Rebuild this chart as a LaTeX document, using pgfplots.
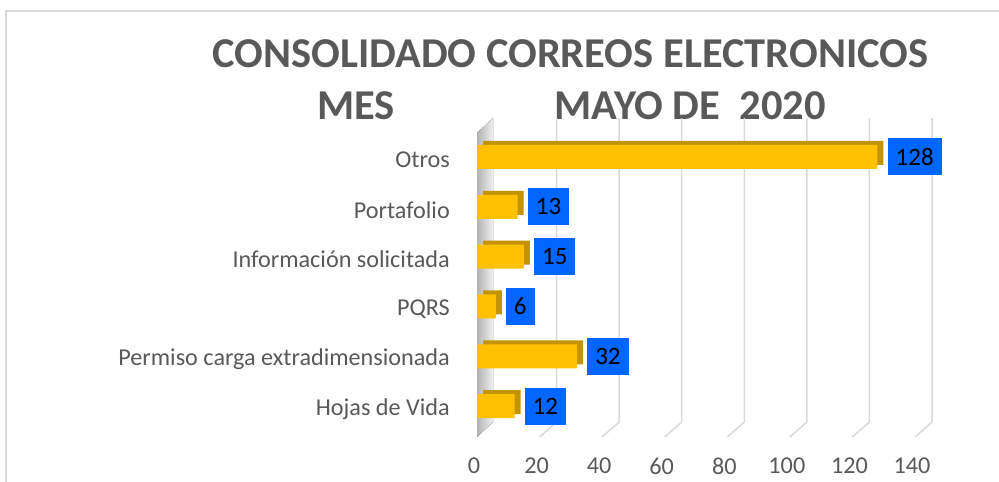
\documentclass[border=0pt]{standalone}
\usepackage{pgfplots}
\pgfplotsset{compat=1.18}
\usepackage{fontspec}
\setmainfont{Carlito}
\definecolor{txt}{HTML}{595959}
\definecolor{gold}{HTML}{FFC000}
\definecolor{golddark}{HTML}{C49400}
\definecolor{lblblue}{HTML}{0066FF}
\definecolor{gridc}{HTML}{D9D9D9}
\begin{document}
\begin{tikzpicture}[x=1pt,y=1pt]
\useasboundingbox (0,0) rectangle (999,-482);
\draw[gridc, line width=1.5pt] (6,-11) rectangle (1010,-495);
\node[anchor=base, inner sep=0pt, text=txt, font=\fontsize{42.5}{50}\selectfont\bfseries] at (570.5,-67) {CONSOLIDADO CORREOS ELECTRONICOS};
\node[anchor=base west, inner sep=0pt, text=txt, font=\fontsize{42.5}{50}\selectfont\bfseries] at (317,-119) {MES};
\node[anchor=base east, inner sep=0pt, text=txt, font=\fontsize{42.5}{50}\selectfont\bfseries] at (826,-119) {MAYO DE\ \ 2020};
\begin{axis}[
  at={(477pt,-431pt)}, anchor=south west,
  scale only axis, width=438pt, height=299pt,
  xmin=0, xmax=140, ymin=-0.5, ymax=5.5,
  xbar, bar width=24pt,
  axis line style={draw=none},
  major tick length=0pt,
  xtick={0,20,...,140},
  ytick={0,1,2,3,4,5},
  yticklabels={Hojas de Vida, Permiso carga extradimensionada, PQRS, Información solicitada, Portafolio, Otros},
  ticklabel style={font=\fontsize{24.2}{29}\selectfont, text=txt},
  xticklabel style={anchor=north, inner sep=0pt, yshift=-27pt, xshift=-3pt},
  yticklabel style={anchor=east, inner sep=0pt, xshift=-27pt, yshift=-3pt},
  /pgf/number format/assume math mode=true,
  clip=false,
]
\fill[left color=gray!60, right color=gray!12] (axis cs:0,-0.62) -- ([xshift=16pt]axis cs:0,-0.32) -- ([xshift=16pt]axis cs:0,5.78) -- (axis cs:0,5.48) -- cycle;
\pgfplotsinvokeforeach{20,40,...,140}{
  \draw[gridc, line width=1.5pt] (axis cs:#1,-0.62) -- ([xshift=17pt]axis cs:#1,-0.32) -- ([xshift=17pt]axis cs:#1,5.78);
}
\addplot[fill=golddark, draw=none, bar shift=4pt, xshift=6pt] coordinates {(12,0) (32,1) (6,2) (15,3) (13,4) (128,5)};
\addplot[fill=gold, draw=none, bar shift=0pt,
  nodes near coords,
  nodes near coords style={anchor=west, xshift=10pt, fill=lblblue, text=black, font=\fontsize{25}{30}\selectfont, minimum height=37pt, inner xsep=8pt, inner ysep=0pt}]
  coordinates {(12,0) (32,1) (6,2) (15,3) (13,4) (128,5)};
\end{axis}
\end{tikzpicture}
\end{document}
